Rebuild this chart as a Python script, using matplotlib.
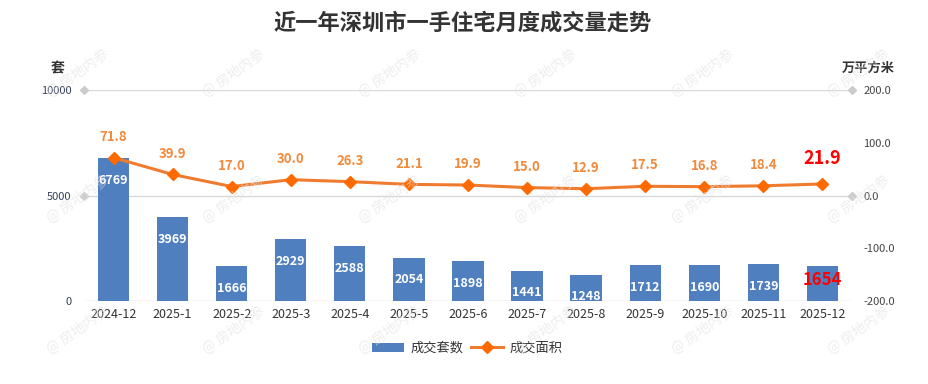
import matplotlib
matplotlib.use('Agg')
import matplotlib.pyplot as plt
import matplotlib.transforms as mtransforms
import numpy as np

plt.rcParams['font.family'] = ['Noto Sans CJK SC', 'DejaVu Sans']
plt.rcParams['axes.unicode_minus'] = False

# data
months = ['2024-12', '2025-1', '2025-2', '2025-3', '2025-4', '2025-5', '2025-6',
          '2025-7', '2025-8', '2025-9', '2025-10', '2025-11', '2025-12']
units = [6769, 3969, 1666, 2929, 2588, 2054, 1898, 1441, 1248, 1712, 1690, 1739, 1654]
area = [71.8, 39.9, 17.0, 30.0, 26.3, 21.1, 19.9, 15.0, 12.9, 17.5, 16.8, 18.4, 21.9]

bar_color = '#4f7fbe'
line_color = '#ef7b2e'
marker_color = '#ff6a00'
grid_color = '#d9d9d9'

fig = plt.figure(figsize=(9.29, 3.84), dpi=100)
ax = fig.add_axes([0.0904, 0.2161, 0.8267, 0.5495])
ax2 = ax.twinx()

x = np.arange(len(months))

# grid lines (shared by both axes)
for yv in [0, 5000, 10000]:
    ax.axhline(yv, color=grid_color, linewidth=1.0, zorder=0)

bars = ax.bar(x, units, width=0.53, color=bar_color, zorder=2, label='成交套数')
ax.set_xlim(-0.5, len(months) - 0.5)
ax.set_ylim(0, 10000)
ax.set_yticks([0, 5000, 10000])
ax.set_xticks(x)
ax.set_xticklabels(months, fontsize=9, color='#333333')
ax.tick_params(axis='both', length=0, pad=6)
ax.tick_params(axis='y', labelsize=8, colors='#34405a', pad=9)
ax.tick_params(axis='x', pad=5)

for i, v in enumerate(units):
    last = i == len(units) - 1
    if last:
        ax.annotate(str(v), (i, v), xytext=(0, -10), textcoords='offset points',
                    ha='center', va='center', color='#ff0000', fontsize=12,
                    fontweight='bold', zorder=5)
    else:
        ax.annotate(str(v), (i, v), xytext=(0, -16), textcoords='offset points',
                    ha='center', va='center', color='white', fontsize=9,
                    fontweight='bold', zorder=5)

line, = ax2.plot(x, area, color=line_color, linewidth=2.2, marker='D', markersize=6,
                 markerfacecolor=marker_color, markeredgecolor=marker_color,
                 solid_joinstyle='round', zorder=4, label='成交面积')
ax2.set_ylim(-200, 200)
ax2.set_yticks([-200, -100, 0, 100, 200])
ax2.set_yticklabels([f'{t:.1f}' for t in [-200, -100, 0, 100, 200]])
ax2.tick_params(axis='y', length=0, labelsize=8, colors='#444444', pad=8)

for i, v in enumerate(area):
    last = i == len(area) - 1
    if last:
        ax2.annotate(f'{v:.1f}', (i, v), xytext=(0, 18), textcoords='offset points',
                     ha='center', va='center', color='#ff0000', fontsize=13,
                     fontweight='bold')
    else:
        ax2.annotate(f'{v:.1f}', (i, v), xytext=(0, 15), textcoords='offset points',
                     ha='center', va='center', color='#f08a3c', fontsize=9.5,
                     fontweight='bold')

for a in (ax, ax2):
    for s in a.spines.values():
        s.set_visible(False)

# small grey diamonds at the ends of the grid lines
tl = mtransforms.blended_transform_factory(ax.transAxes, ax.transData)
ax.plot([0, 0], [5000, 10000], linestyle='none', marker='D', markersize=4,
        color='#cccccc', transform=tl, clip_on=False, zorder=3)
tr = mtransforms.blended_transform_factory(ax2.transAxes, ax2.transData)
ax2.plot([1, 1], [0, 200], linestyle='none', marker='D', markersize=4,
         color='#cccccc', transform=tr, clip_on=False, zorder=3)

fig.text(0.498, 0.94, '近一年深圳市一手住宅月度成交量走势', ha='center', va='center',
         fontsize=16, fontweight='bold', color='#333333')
fig.text(0.062, 0.823, '套', ha='center', va='center', fontsize=10,
         fontweight='bold', color='#333333')
fig.text(0.935, 0.823, '万平方米', ha='center', va='center', fontsize=9.5,
         fontweight='bold', color='#333333')

fig.legend(handles=[bars, line], loc='center', bbox_to_anchor=(0.503, 0.093),
           ncol=2, frameon=False, fontsize=9.5, handlelength=2.4,
           handleheight=0.7, columnspacing=0.6, handletextpad=0.5,
           labelcolor='#333333')

# watermark
for yc in [0.81, 0.48, 0.14]:
    for xc in np.arange(0.084, 1.0, 0.168):
        fig.text(xc, yc, '@ 房地内参', ha='center', va='center', fontsize=10,
                 rotation=35, color='#e2e2e2', alpha=0.6, zorder=10)

fig.savefig('out.png', dpi=100)
